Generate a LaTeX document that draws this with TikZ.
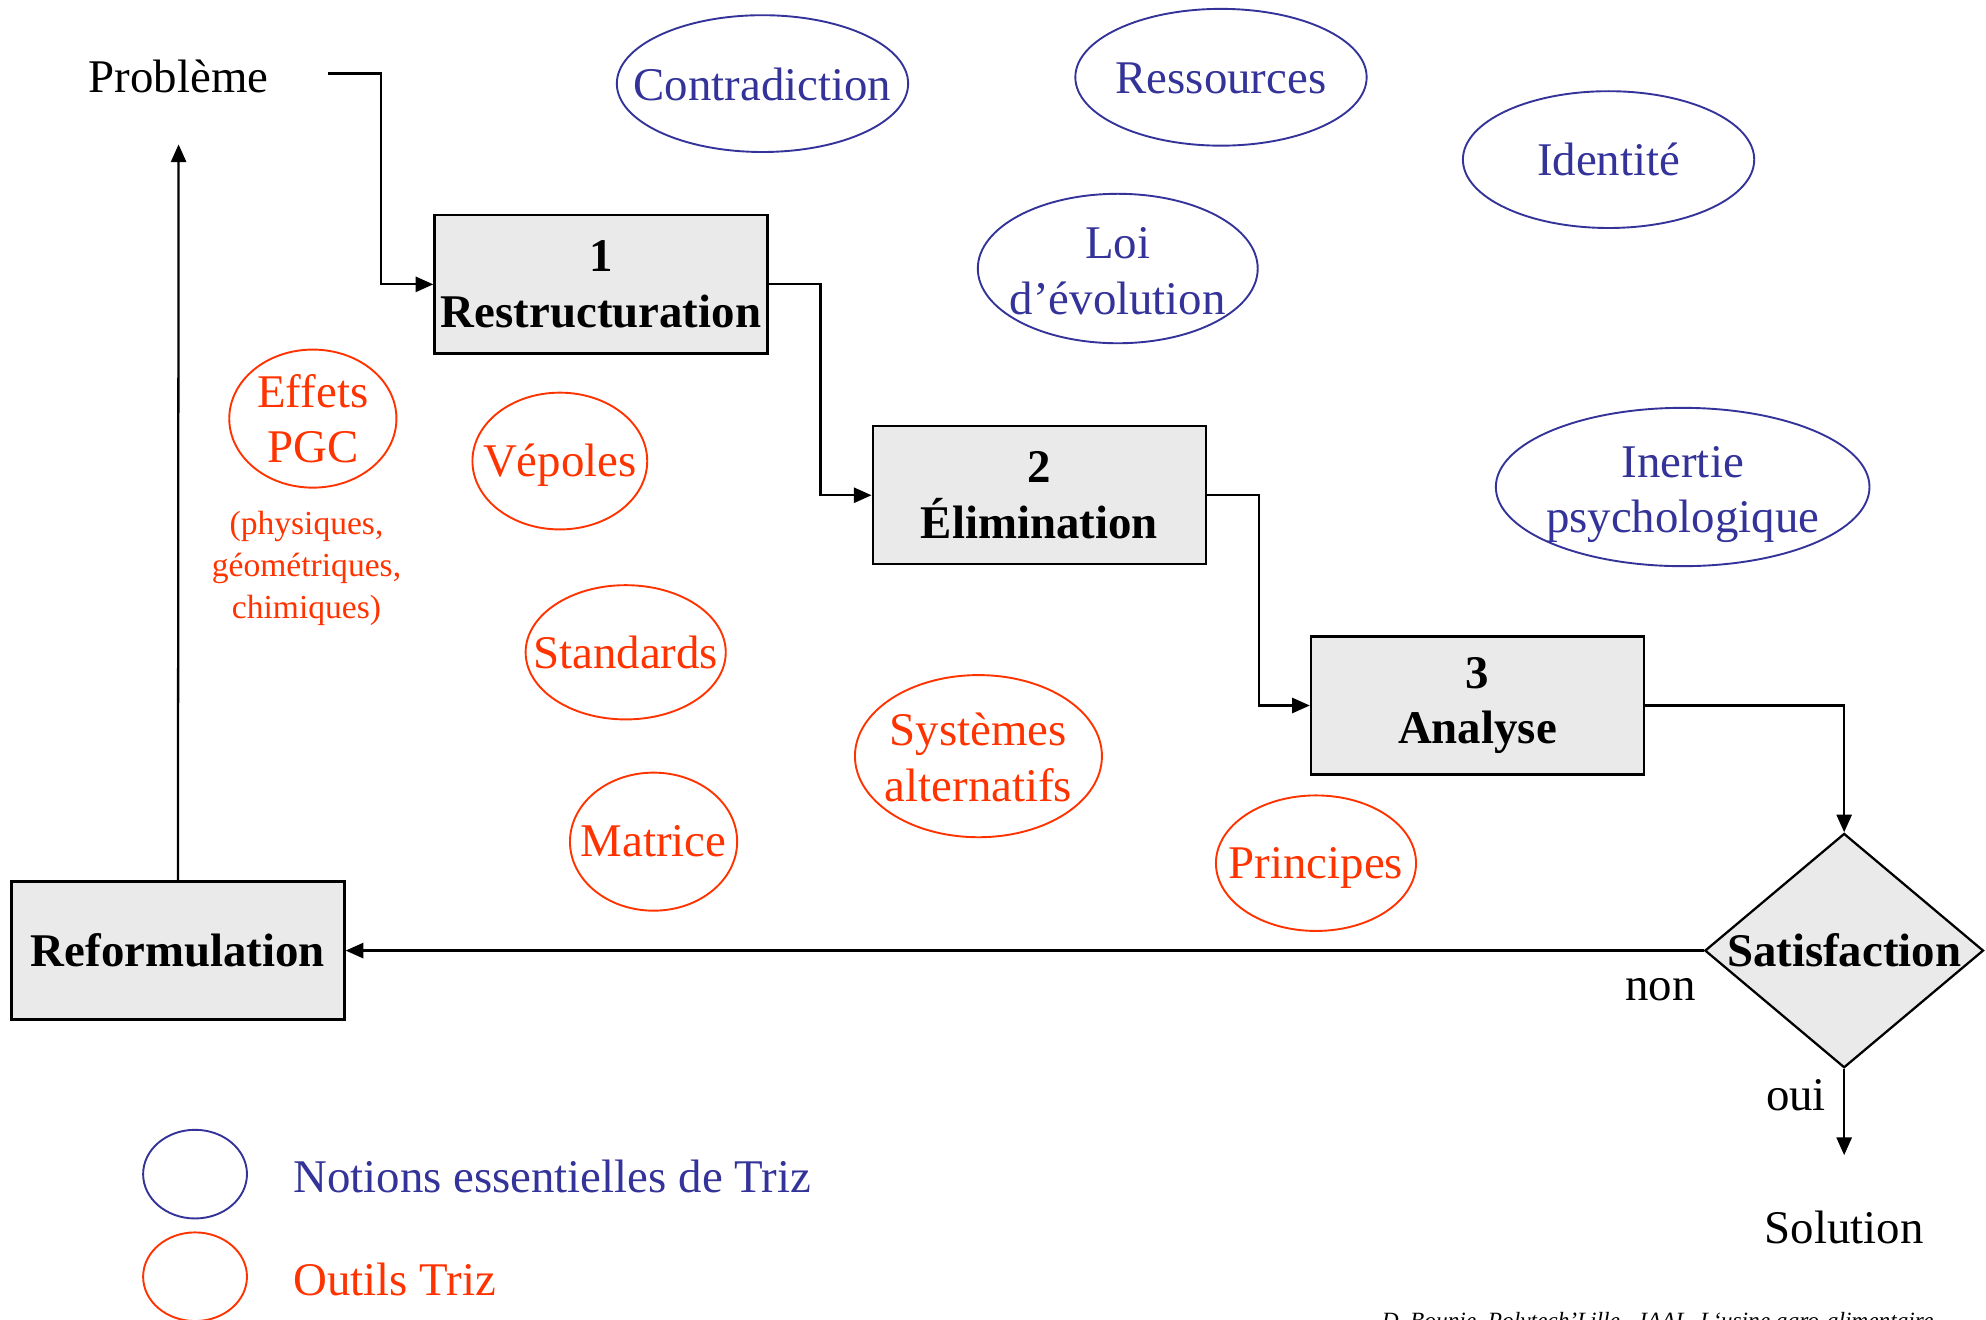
\documentclass[tikz,border=0pt]{standalone}
\usepackage{fontspec}
\setmainfont{Liberation Serif}
\usepackage{tikz}
\usetikzlibrary{arrows.meta,positioning,shapes.geometric,calc}
\definecolor{TrizBlue}{HTML}{333399}
\definecolor{TrizRed}{HTML}{FF3300}
\definecolor{BoxGray}{HTML}{EAEAEA}
\newcommand{\bigfont}{\fontsize{37}{44}\selectfont}
\newcommand{\notefont}{\fontsize{26.5}{33}\selectfont}
\tikzset{
  stage/.style={draw=black,fill=BoxGray,line width=1.8pt,align=center,inner sep=0pt,
    minimum width=263pt,minimum height=109pt,font=\bigfont\bfseries},
  test/.style={diamond,draw=black,fill=BoxGray,line width=1.8pt,inner sep=0pt,
    minimum width=220pt,minimum height=185pt},
  notion/.style={ellipse,draw=TrizBlue,line width=1.5pt,inner sep=0pt},
  tool/.style={ellipse,draw=TrizRed,line width=1.5pt,inner sep=0pt},
  notiontext/.style={text=TrizBlue,align=center,font=\bigfont},
  tooltext/.style={text=TrizRed,align=center,font=\bigfont},
  plain/.style={font=\bigfont},
  flow/.style={-{Triangle[length=14pt,width=12pt]},line width=1.8pt}
}

\begin{document}
\begin{tikzpicture}[x=1pt,y=-1pt]
  \useasboundingbox (0,0) rectangle (1568,1042);
  % main loop
  \node[plain] (probleme) at (141,60) {Problème};
  \node[stage] (restr) at (474.5,224.5) {1\\Restructuration};
  \node[stage] (elim) at (820.5,391) {2\\Élimination};
  \node[stage] (analyse) at (1166.5,557) {3\\Analyse};
  \node[test,label={[font=\bigfont\bfseries]center:Satisfaction}] (satis) at (1456,750.5) {};
  \node[stage] (reform) at (140.5,750.5) {Reformulation};
  \node[plain] (non) at (1311,781) {non};
  \node[plain] (oui) at (1418,865) {oui};
  \node[plain] (solution) at (1456,969) {Solution};
  \coordinate (pb-out) at (259,58);
  \coordinate (pb-in) at (141,114);
  \coordinate (sol-in) at (1456,912);
  \draw[flow] (pb-out) -- ++(42,0) |- (restr.west);
  \draw[flow] (restr.east) -- ++(41,0) |- (elim.west);
  \draw[flow] (elim.east) -- ++(41,0) |- (analyse.west);
  \draw[flow] (analyse.east) -| (satis.north);
  \draw[flow] (satis.west) -- (reform.east);
  \draw[flow] (reform.north) -- (pb-in);
  \draw[flow] (satis.south) -- (sol-in);
  % notions
  \node[notion,minimum width=230pt,minimum height=108pt,
    label={[notiontext,yshift=-1pt]center:Contradiction}] (contra) at (602,66) {};
  \node[notion,minimum width=230pt,minimum height=108pt,
    label={[notiontext,yshift=-1pt]center:Ressources}] (ress) at (964,61) {};
  \node[notion,minimum width=230pt,minimum height=108pt,
    label={[notiontext]center:Identité}] (ident) at (1270,126) {};
  \node[notion,minimum width=221pt,minimum height=118pt,
    label={[notiontext,yshift=-2pt]center:Loi\\d’évolution}] (loi) at (882.5,212) {};
  \node[notion,minimum width=295pt,minimum height=125pt,
    label={[notiontext,yshift=-6pt]center:Inertie\\psychologique}] (inertie) at (1328.5,384.5) {};
  % outils
  \node[tool,minimum width=132pt,minimum height=109pt,
    label={[tooltext]center:Effets\\PGC}] (pgc) at (247,330.5) {};
  \node[tooltext,font=\notefont] (pgcnote) at (242,449) {(physiques,\\géométriques,\\chimiques)};
  \node[tool,minimum width=138pt,minimum height=108pt,
    label={[tooltext,yshift=-3pt]center:Vépoles}] (vepoles) at (442,364) {};
  \node[tool,minimum width=158pt,minimum height=106pt,
    label={[tooltext]center:Standards}] (standards) at (494,515) {};
  \node[tool,minimum width=195pt,minimum height=128pt,
    label={[tooltext,yshift=-1pt]center:Systèmes\\alternatifs}] (systemes) at (772.5,597) {};
  \node[tool,minimum width=132pt,minimum height=109pt,
    label={[tooltext]center:Matrice}] (matrice) at (516,664.5) {};
  \node[tool,minimum width=158pt,minimum height=107pt,
    label={[tooltext,yshift=-4pt]center:Principes}] (principes) at (1039,681.5) {};
  % legend
  \node[notion,minimum width=82pt,minimum height=70pt] (key-notion) at (154,927) {};
  \node[tool,minimum width=82pt,minimum height=70pt] (key-tool) at (154,1008) {};
  \node[notiontext,anchor=west] (key-notion-text) at (228,929) {Notions essentielles de Triz};
  \node[tooltext,anchor=west] (key-tool-text) at (228,1010) {Outils Triz};
  \node[anchor=base east,font=\fontsize{18.4}{22}\selectfont\itshape] (credit) at (1530,1049)
    {D. Bounie, Polytech'Lille - IAAL, L‘usine agro-alimentaire};
\end{tikzpicture}
\end{document}
